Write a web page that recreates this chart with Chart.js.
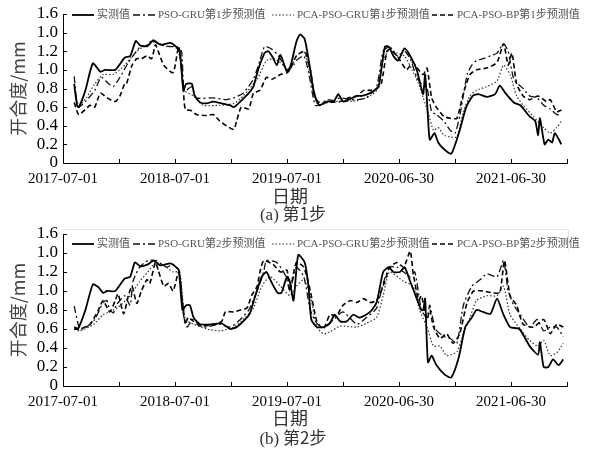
<!DOCTYPE html>
<html><head><meta charset="utf-8">
<script src="https://cdn.jsdelivr.net/npm/chart.js@4.4.1/dist/chart.umd.min.js"></script>
<style>
html,body{margin:0;padding:0;background:#fff;}
#wrap{position:relative;width:594px;height:452px;overflow:hidden;background:#fff;}
canvas{position:absolute;left:0;}
.t{position:absolute;font-family:"Noto Sans CJK SC",sans-serif;color:#333;white-space:nowrap;transform:translate(-50%,-50%);line-height:1;}
.cap{font-size:17px;}
.cap .l{font-family:"Liberation Serif",serif;}
</style></head>
<body><div id="wrap">
<canvas id="c1" width="594" height="226" style="top:0"></canvas>
<canvas id="c2" width="594" height="232" style="top:220px"></canvas>
<div class="t" style="left:290px;top:195px;font-size:18px">日期</div>
<div class="t cap" style="left:293px;top:213px"><span class="l">(a)</span> 第1步</div>
<div class="t" style="left:290px;top:417px;font-size:18px">日期</div>
<div class="t cap" style="left:293px;top:437px"><span class="l">(b)</span> 第2步</div>
</div>
<script>
// x values are months since 2017-07-01
const xTickValues = [0,6,12,18,24,30,36,42,48,54];
const xTickLabels = ['2017-07-01','','2018-07-01','','2019-07-01','','2020-06-30','','2021-06-30',''];
const yTickValues = [0,0.2,0.4,0.6,0.8,1.0,1.2,1.4,1.6];
const yTickLabels = ['0','0.2','0.4','0.6','0.8','1.0','1.2','1.0','1.6'];
const names1 = ['实测值','PSO-GRU第1步预测值','PCA-PSO-GRU第1步预测值','PCA-PSO-BP第1步预测值'];
const names2 = ['实测值','PSO-GRU第2步预测值','PCA-PSO-GRU第2步预测值','PCA-PSO-BP第2步预测值'];

const act1 = [[1.2,0.85],[1.5,0.62],[1.7,0.60],[2.4,0.78],[3.2,1.07],[4.0,0.98],[4.5,1.00],[5.6,1.00],[6.6,1.13],[7.2,1.15],[7.8,1.31],[8.3,1.26],[9.1,1.26],[9.7,1.32],[10.4,1.27],[11.5,1.29],[12.0,1.26],[12.5,1.20],[12.9,0.78],[13.2,0.85],[13.8,0.85],[14.1,0.72],[14.7,0.65],[15.4,0.64],[16.1,0.66],[17.0,0.64],[17.9,0.62],[18.3,0.60],[19.0,0.66],[19.9,0.75],[20.4,0.82],[20.9,1.00],[21.6,1.18],[22.0,1.20],[22.5,1.13],[22.9,1.05],[23.3,1.16],[24.0,0.98],[24.4,1.05],[25.0,1.30],[25.4,1.38],[25.9,1.33],[26.5,1.00],[26.8,0.80],[27.2,0.66],[27.5,0.62],[28.3,0.66],[29.0,0.66],[29.5,0.74],[30.0,0.66],[30.6,0.68],[31.5,0.72],[32.0,0.72],[32.9,0.75],[33.8,0.82],[34.1,1.00],[34.5,1.25],[34.9,1.25],[35.4,1.15],[35.9,1.10],[36.6,1.23],[37.2,1.15],[37.9,1.00],[38.4,0.80],[38.6,0.74],[38.8,0.95],[39.1,0.50],[39.3,0.25],[39.8,0.32],[40.2,0.22],[40.8,0.15],[41.6,0.10],[42.5,0.35],[43.2,0.60],[43.9,0.72],[44.5,0.74],[45.4,0.71],[46.3,0.74],[46.8,0.83],[47.4,0.75],[48.3,0.65],[49.0,0.62],[50.0,0.50],[50.6,0.45],[50.9,0.30],[51.1,0.48],[51.6,0.20],[52.0,0.25],[52.4,0.22],[52.7,0.32],[53.4,0.20]];
const gru1 = [[1.2,0.93],[1.6,0.60],[2.4,0.66],[3.4,0.78],[4.1,0.92],[4.9,0.85],[5.4,0.82],[6.1,0.92],[7.0,1.08],[7.5,1.15],[8.3,1.25],[9.0,1.25],[9.5,1.32],[10.4,1.27],[11.5,1.25],[12.2,1.25],[12.7,1.20],[13.0,0.77],[13.8,0.82],[14.3,0.70],[16.1,0.70],[17.5,0.68],[18.3,0.70],[19.3,0.75],[20.4,0.90],[21.1,1.10],[21.6,1.25],[22.4,1.22],[23.1,1.15],[24.0,1.00],[24.7,1.05],[25.0,1.10],[25.8,1.15],[26.3,0.98],[27.0,0.62],[27.5,0.62],[28.3,0.68],[29.0,0.67],[29.7,0.70],[30.8,0.68],[31.5,0.68],[32.5,0.70],[33.6,0.82],[34.3,1.20],[35.0,1.25],[35.8,1.15],[36.6,1.20],[37.2,1.12],[37.9,0.92],[38.4,0.85],[39.0,0.80],[39.5,0.55],[40.0,0.52],[40.8,0.45],[41.5,0.35],[42.0,0.32],[42.5,0.50],[43.3,0.95],[43.8,1.05],[44.3,1.10],[45.0,1.12],[45.8,1.15],[46.5,1.18],[47.2,1.28],[47.7,1.20],[48.3,0.90],[49.3,0.80],[50.0,0.72],[50.8,0.70],[51.5,0.62],[52.2,0.58],[52.9,0.52],[53.4,0.52]];
const pcaGru1 = [[1.2,0.80],[1.7,0.62],[2.5,0.70],[3.4,0.85],[4.3,0.95],[5.4,0.95],[6.6,1.05],[7.9,1.20],[9.0,1.27],[9.9,1.30],[11.1,1.25],[12.0,1.25],[12.5,1.15],[13.0,0.78],[14.0,0.72],[15.0,0.62],[16.8,0.62],[18.3,0.64],[19.3,0.72],[20.8,0.90],[21.8,1.10],[22.7,1.12],[23.6,1.05],[24.3,1.00],[25.0,1.15],[25.8,1.20],[26.5,0.95],[27.0,0.68],[27.5,0.62],[28.6,0.66],[29.7,0.66],[31.5,0.67],[32.9,0.72],[33.6,0.78],[34.3,1.10],[35.0,1.22],[35.8,1.18],[36.6,1.15],[37.4,1.00],[38.1,0.85],[38.6,0.70],[39.1,0.55],[39.7,0.35],[40.2,0.38],[40.8,0.30],[41.5,0.28],[42.2,0.28],[42.9,0.55],[43.6,0.72],[44.3,0.78],[45.4,0.82],[46.5,0.88],[47.2,1.05],[47.9,0.95],[48.6,0.72],[49.3,0.62],[50.4,0.50],[51.1,0.42],[51.5,0.38],[52.2,0.32],[52.9,0.38],[53.4,0.45]];
const bp1 = [[1.2,0.65],[1.7,0.52],[2.9,0.62],[3.4,0.60],[4.0,0.75],[4.7,0.70],[5.6,0.66],[6.1,0.72],[6.6,0.85],[6.8,0.85],[7.4,1.05],[7.9,1.12],[8.4,1.12],[9.0,1.15],[9.5,1.12],[9.9,1.27],[10.2,1.20],[10.8,1.05],[11.8,0.97],[12.4,1.25],[12.9,0.78],[13.1,0.58],[13.8,0.56],[14.3,0.52],[15.4,0.51],[16.1,0.52],[16.8,0.45],[17.5,0.40],[18.3,0.36],[18.6,0.45],[19.1,0.60],[19.9,0.58],[20.4,0.75],[21.1,0.78],[21.8,0.92],[22.4,0.90],[23.3,0.95],[24.0,0.97],[24.3,1.00],[25.0,1.15],[25.9,1.20],[26.5,1.00],[27.0,0.70],[27.5,0.65],[28.3,0.65],[29.7,0.66],[30.6,0.70],[31.5,0.72],[32.2,0.78],[32.9,0.78],[33.6,0.80],[34.1,0.85],[34.7,1.20],[35.0,1.22],[35.8,1.15],[36.8,1.00],[37.2,1.05],[37.5,1.08],[38.1,1.00],[38.6,0.95],[39.0,1.02],[39.5,0.70],[40.0,0.60],[40.8,0.50],[41.5,0.48],[42.2,0.48],[42.9,0.75],[43.6,0.95],[44.3,1.00],[45.4,1.02],[46.5,1.08],[47.2,1.28],[47.7,1.05],[48.1,1.18],[48.6,0.85],[49.3,0.72],[50.0,0.68],[50.9,0.72],[51.8,0.66],[52.2,0.68],[52.9,0.55],[53.4,0.57]];

const act2 = [[1.2,0.60],[1.6,0.60],[2.4,0.80],[3.2,1.07],[3.8,1.04],[4.3,0.98],[4.7,1.00],[5.6,1.00],[6.6,1.13],[7.2,1.15],[7.7,1.30],[8.3,1.26],[9.1,1.28],[9.7,1.32],[10.4,1.27],[11.5,1.29],[12.0,1.26],[12.4,1.22],[12.8,0.80],[13.2,0.85],[13.6,0.85],[14.0,0.72],[14.7,0.65],[16.1,0.65],[17.0,0.66],[17.9,0.60],[18.6,0.62],[19.3,0.68],[20.0,0.76],[20.6,0.95],[21.3,1.15],[21.8,1.20],[22.3,1.10],[23.0,0.98],[23.4,0.98],[24.0,1.15],[24.3,1.10],[24.7,0.90],[25.2,1.38],[25.9,1.30],[26.3,1.05],[26.6,0.70],[27.2,0.62],[27.9,0.62],[28.6,0.66],[29.1,0.75],[29.7,0.68],[30.4,0.68],[31.1,0.75],[31.8,0.72],[32.9,0.78],[33.6,0.88],[34.3,1.20],[34.9,1.25],[35.4,1.20],[36.1,1.20],[36.6,1.25],[37.2,1.10],[37.9,0.92],[38.4,0.80],[38.6,0.80],[38.8,0.92],[39.1,0.25],[39.5,0.32],[40.0,0.22],[40.9,0.12],[41.6,0.09],[42.4,0.30],[43.1,0.62],[43.8,0.72],[44.3,0.80],[45.0,0.78],[45.8,0.76],[46.5,0.92],[47.2,0.75],[47.9,0.62],[48.9,0.60],[50.0,0.42],[50.9,0.33],[51.1,0.46],[51.5,0.20],[52.0,0.20],[52.5,0.28],[53.1,0.22],[53.6,0.28]];
const gru2 = [[1.2,0.84],[1.8,0.60],[2.5,0.62],[3.4,0.70],[4.3,0.88],[4.7,0.90],[5.0,0.80],[5.4,0.77],[5.7,0.85],[6.1,0.90],[6.6,0.95],[7.2,0.85],[7.5,1.10],[8.2,1.25],[9.1,1.32],[10.0,1.32],[11.1,1.25],[11.8,1.28],[12.5,1.20],[12.9,0.75],[13.3,0.62],[13.9,0.70],[15.0,0.62],[16.8,0.65],[17.9,0.62],[19.0,0.70],[19.9,0.80],[20.8,1.00],[21.5,1.20],[21.8,1.32],[22.9,1.30],[23.9,1.15],[24.3,1.00],[25.0,1.25],[25.8,1.15],[26.5,0.80],[27.2,0.66],[27.9,0.62],[29.0,0.70],[30.0,0.78],[31.5,0.65],[32.5,0.72],[33.6,0.82],[34.3,1.08],[35.0,1.25],[35.8,1.25],[36.5,1.20],[37.2,1.15],[37.7,1.20],[38.4,0.80],[39.0,0.72],[39.3,0.85],[39.9,0.60],[40.8,0.52],[41.5,0.50],[42.2,0.45],[42.9,0.85],[43.8,1.05],[44.7,1.12],[45.4,1.18],[46.5,1.15],[47.2,1.32],[47.7,1.00],[48.3,0.85],[49.0,0.75],[50.0,0.62],[50.8,0.70],[51.5,0.58],[52.2,0.62],[52.9,0.62],[53.6,0.52]];
const pcaGru2 = [[1.2,0.60],[1.8,0.58],[3.3,0.65],[4.3,0.75],[5.8,0.82],[7.2,0.95],[8.2,1.10],[9.1,1.20],[9.9,1.30],[10.8,1.27],[11.8,1.20],[12.5,1.20],[13.1,0.70],[14.0,0.65],[15.4,0.60],[16.8,0.58],[18.3,0.62],[19.3,0.70],[20.4,0.82],[21.3,1.05],[22.2,1.15],[23.3,1.05],[24.3,0.95],[25.0,1.05],[25.8,1.12],[26.5,0.95],[27.2,0.62],[27.9,0.55],[28.6,0.57],[29.7,0.63],[31.5,0.62],[32.5,0.66],[33.6,0.72],[34.3,0.95],[35.0,1.20],[36.5,1.10],[37.5,1.05],[38.2,0.80],[39.0,0.62],[39.7,0.42],[40.4,0.42],[41.1,0.32],[42.2,0.36],[42.9,0.55],[43.6,0.72],[44.3,0.90],[45.4,0.95],[46.5,0.95],[47.2,1.05],[47.9,0.75],[49.0,0.60],[50.0,0.48],[50.9,0.42],[51.5,0.48],[52.2,0.32],[52.9,0.35],[53.6,0.45]];
const bp2 = [[1.2,0.62],[1.8,0.60],[2.9,0.65],[3.8,0.80],[4.3,0.90],[5.0,0.78],[5.6,0.90],[5.9,0.97],[6.5,0.76],[7.0,0.95],[7.4,1.05],[7.9,0.87],[8.4,1.00],[9.0,1.12],[9.3,1.08],[9.9,1.30],[10.2,1.22],[10.8,1.05],[11.3,1.08],[11.8,1.00],[12.4,1.20],[13.1,0.65],[13.4,0.72],[14.0,0.68],[14.7,0.63],[16.1,0.65],[17.0,0.68],[17.4,0.78],[18.3,0.78],[19.0,0.80],[19.7,0.82],[20.2,0.95],[20.8,1.05],[21.1,1.20],[21.5,1.32],[22.5,1.28],[23.3,1.20],[24.0,1.22],[24.3,1.00],[25.0,1.30],[25.8,1.25],[26.5,1.00],[27.2,0.68],[27.9,0.60],[28.6,0.75],[29.3,0.74],[30.0,0.85],[30.8,0.90],[31.5,0.88],[32.2,0.92],[32.9,0.88],[33.6,0.90],[34.3,1.05],[35.0,1.25],[35.8,1.30],[36.5,1.25],[37.2,1.42],[37.5,1.20],[38.1,0.90],[38.4,0.95],[39.0,0.70],[39.3,0.80],[39.7,0.62],[40.4,0.50],[41.1,0.55],[41.8,0.45],[42.5,0.55],[43.3,0.88],[44.0,1.00],[45.0,1.00],[46.1,0.98],[46.8,0.98],[47.3,1.32],[47.9,0.95],[48.6,0.85],[49.3,0.65],[50.4,0.62],[51.5,0.70],[52.2,0.55],[52.9,0.65],[53.6,0.62]];

const styles = [
  {borderColor:'#000', borderWidth:1.8, borderDash:[]},
  {borderColor:'#111', borderWidth:1.3, borderDash:[7,3,2,3]},
  {borderColor:'#333', borderWidth:1.2, borderDash:[1.5,2]},
  {borderColor:'#000', borderWidth:1.6, borderDash:[5,3]}
];

const decor = {
  id: 'decor',
  afterDraw(chart, args, opts) {
    const ctx = chart.ctx, xs = chart.scales.x, ys = chart.scales.y, ca = chart.chartArea;
    ctx.save();
    ctx.strokeStyle = '#000'; ctx.lineWidth = 1; ctx.setLineDash([]);
    ctx.beginPath();
    ys.ticks.forEach(t => { const p = Math.round(ys.getPixelForValue(t.value)) + 0.5; ctx.moveTo(ca.left, p); ctx.lineTo(ca.left + 4, p); });
    xs.ticks.forEach(t => { const p = Math.round(xs.getPixelForValue(t.value)) + 0.5; ctx.moveTo(p, ca.bottom); ctx.lineTo(p, ca.bottom - 4); });
    ctx.stroke();
    if (opts.box) {
      ctx.strokeStyle = '#e4e4e4';
      ctx.beginPath();
      ctx.moveTo(ca.left, opts.boxTop + 0.5); ctx.lineTo(ca.right + 1.5, opts.boxTop + 0.5);
      ctx.lineTo(ca.right + 1.5, opts.boxTop + 22);
      ctx.stroke();
    }
    ctx.font = '11px "Liberation Serif", "Noto Sans CJK SC"';
    ctx.textBaseline = 'middle';
    chart.data.datasets.forEach((ds, i) => {
      const x0 = opts.itemX[i];
      ctx.strokeStyle = ds.borderColor; ctx.lineWidth = ds.borderWidth; ctx.setLineDash(ds.borderDash);
      ctx.beginPath(); ctx.moveTo(x0, opts.y); ctx.lineTo(x0 + 22, opts.y); ctx.stroke();
      ctx.setLineDash([]);
      ctx.fillStyle = '#555';
      ctx.fillText(ds.label, x0 + 25, opts.y + 0.5);
    });
    ctx.restore();
  }
};

function makeChart(id, names, series, cfg) {
  return new Chart(document.getElementById(id), {
    type: 'line',
    data: {
      datasets: series.map((s, i) => Object.assign({
        label: names[i],
        data: s.map(p => ({x: p[0], y: p[1]})),
        pointRadius: 0, tension: 0.2, fill: false
      }, styles[i]))
    },
    options: {
      responsive: false, animation: false, devicePixelRatio: 1,
      layout: {padding: {left: 0, right: 27, top: cfg.top, bottom: 0}},
      plugins: {legend: {display: false}, tooltip: {enabled: false},
        decor: {y: cfg.legendY, itemX: [72, 133, 272, 432], box: cfg.box, boxTop: cfg.boxTop}},
      scales: {
        x: {
          type: 'linear', min: 0, max: 54,
          afterFit: s => { s.height = cfg.xh; },
          afterBuildTicks: s => { s.ticks = xTickValues.map(v => ({value: v})); },
          grid: {display: false, drawTicks: false},
          border: {display: true, color: '#000', width: 1},
          ticks: {autoSkip: false, maxRotation: 0, padding: 7, color: '#000',
            font: {family: 'Liberation Serif', size: 15},
            callback: v => { const i = xTickValues.indexOf(v); return i >= 0 ? xTickLabels[i] : ''; }}
        },
        y: {
          min: 0, max: 1.6,
          afterFit: s => { s.width = 63; },
          afterBuildTicks: s => { s.ticks = yTickValues.map(v => ({value: v})); },
          grid: {display: false, drawTicks: false},
          border: {display: true, color: '#000', width: 1},
          ticks: {autoSkip: false, padding: 5, color: '#000',
            font: {family: 'Liberation Serif', size: 17, lineHeight: 1},
            callback: v => yTickLabels[Math.round(v / 0.2)]},
          title: {display: true, text: '开合度/mm', color: '#444',
            font: {family: 'Noto Sans CJK SC', size: 18}, padding: {top: 7, bottom: 0}}
        }
      }
    },
    plugins: [decor]
  });
}

makeChart('c1', names1, [act1, gru1, pcaGru1, bp1], {top: 14, xh: 63, legendY: 15, box: false});
makeChart('c2', names2, [act2, gru2, pcaGru2, bp2], {top: 14, xh: 66, legendY: 24, box: true, boxTop: 9});
</script>
</body></html>
